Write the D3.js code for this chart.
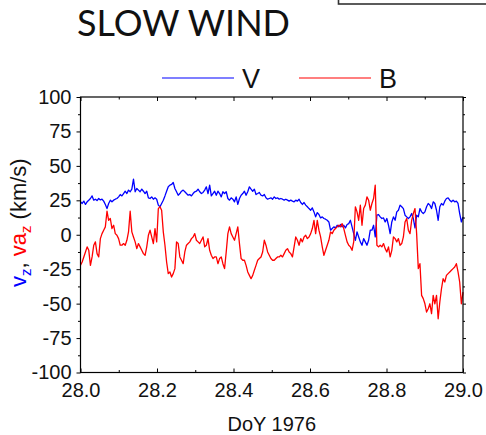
<!DOCTYPE html>
<html>
<head>
<meta charset="utf-8">
<script src="https://cdn.jsdelivr.net/npm/d3@7"></script>
<style>
  body { margin: 0; background: #fff; }
  svg { display: block; font-family: Arial, "Liberation Sans", sans-serif; }
</style>
</head>
<body>
<svg id="chart" width="486" height="435"></svg>
<script>
// v_z (blue), sampled evenly over DoY 28.0 - 29.0
const vz = [
  23.9,22.7,24.4,22.0,23.9,25.1,26.3,28.2,25.1,25.8,
  24.8,26.3,25.3,25.8,24.4,22.0,19.0,22.7,25.1,23.9,
  25.1,25.8,26.3,27.5,29.2,28.2,29.9,31.6,29.9,32.4,
  31.2,33.1,40.4,31.2,33.6,32.4,31.2,33.1,31.6,29.9,
  31.6,26.8,26.3,27.5,25.8,26.8,25.8,21.5,20.3,22.7,
  25.1,28.2,31.6,34.8,36.0,36.5,38.0,33.6,
  31.2,28.7,29.9,31.6,32.4,31.2,29.9,28.7,29.2,28.2,
  29.9,31.2,31.6,33.1,31.2,29.9,30.7,32.4,34.8,29.9,
  36.0,28.2,29.9,31.6,28.7,31.6,29.9,27.5,31.2,29.9,
  31.2,26.3,25.1,26.8,25.8,23.9,27.5,22.0,26.3,28.7,
  29.9,31.6,28.7,31.2,34.8,33.1,31.6,33.1,29.2,29.9,
  30.7,28.7,28.2,29.2,26.8,25.8,26.3,26.8,25.8,
  27.5,26.3,26.8,25.8,26.3,25.8,25.1,25.8,25.1,24.4,
  25.1,24.4,23.9,25.1,24.4,25.8,23.4,22.0,23.4,21.5,
  20.3,19.0,17.8,19.5,16.6,13.0,16.1,14.7,12.2,13.0,
  11.8,11.3,10.5,9.3,3.3,4.5,5.7,5.0,6.9,5.7,
  7.4,5.7,6.9,5.0,7.4,8.1,10.5,5.7,0.8,-4.0,
  2.1,-1.6,-5.2,-7.6,-2.8,-5.2,-7.6,-4.0,3.3,
  3.3,6.9,-1.6,14.2,14.7,13.0,11.8,12.2,9.3,11.8,
  6.9,0.8,9.3,13.0,10.5,16.6,17.8,21.5,20.3,19.0,
  14.2,13.0,11.8,13.0,15.4,11.8,5.0,14.2,13.0,19.0,
  16.6,15.4,16.6,20.3,22.7,21.5,19.0,23.9,22.7,17.8,
  10.5,20.3,22.7,21.5,24.4,26.3,26.8,25.1,23.9,25.1,
  23.9,24.4,22.7,15.4,9.3,13.0
];

// va_z (red), same sampling
const vaz = [
  -22.2,-19.8,-16.1,-12.5,-8.8,-11.3,-22.2,-16.1,-7.6,-5.2,
  -13.7,-16.1,-2.8,0.8,3.3,5.7,17.1,10.5,11.8,4.5,
  6.9,0.8,-0.4,-2.8,-7.6,-7.6,-6.4,-7.6,-4.0,2.1,
  17.1,2.1,-1.6,-5.2,-10.1,-6.4,-8.8,-11.3,-13.7,-14.9,
  -8.8,-0.4,3.3,-1.6,-6.4,4.5,-5.2,19.0,20.3,17.8,
  2.1,-7.6,-19.8,-28.2,-27.0,-30.7,-28.2,-24.6,
  -5.2,-6.4,-16.1,-18.5,-21.0,-12.5,-7.6,-6.4,-5.2,-2.8,
  -1.6,0.8,-4.0,-5.2,-6.4,-4.0,-1.6,-8.8,-7.6,-2.8,
  -11.3,-14.9,-17.3,-16.1,-16.1,-21.0,-17.3,-16.1,-21.0,-24.6,
  -12.5,0.8,5.7,0.8,-1.6,-4.0,0.8,5.7,-6.4,-17.3,
  -18.5,-18.5,-22.2,-27.0,-29.5,-31.9,-29.5,-25.8,-22.2,-18.5,
  -17.3,-16.1,-12.5,-4.0,-7.6,-12.5,-14.9,-17.3,-18.5,
  -18.5,-17.3,-16.1,-16.1,-14.9,-16.1,-13.7,-11.3,-10.1,-12.5,
  -13.7,-16.1,-8.8,-1.6,-4.0,-7.6,-2.8,-5.2,-1.6,-0.4,
  -2.8,-1.6,0.8,4.5,10.5,0.8,10.5,3.3,-1.6,-8.8,
  -14.9,-11.3,-7.6,-4.0,2.1,0.8,3.3,4.5,5.7,6.9,
  5.7,8.1,4.5,-0.4,-5.2,-7.6,-8.8,-11.3,-5.2,20.3,
  16.6,10.5,21.5,6.9,19.0,21.5,27.5,25.1,17.8,
  22.7,26.3,36.0,-7.6,-8.8,-7.6,-8.8,-6.4,-10.1,-12.5,
  -8.8,-16.1,-11.3,-1.6,-2.8,-5.2,-2.8,-7.6,-6.4,-1.6,
  9.3,11.8,3.3,0.8,10.5,15.4,19.0,0.8,-24.6,-21.0,
  -44.0,-46.4,-50.1,-56.1,-53.7,-50.1,-57.3,-44.0,-50.1,-44.0,
  -61.0,-48.8,-39.2,-31.9,-34.3,-29.5,-28.2,-27.0,-25.8,-24.6,
  -23.4,-21.0,-27.0,-34.3,-50.1,-41.6
];

const dayStart = 28.0, dayEnd = 29.0;
const xTicks = [28.0, 28.2, 28.4, 28.6, 28.8, 29.0];
const xMinor = [28.1, 28.3, 28.5, 28.7, 28.9];
const yTicks = [-100, -75, -50, -25, 0, 25, 50, 75, 100];
const yMinor = [-87.5, -62.5, -37.5, -12.5, 12.5, 37.5, 62.5, 87.5];
const seriesNames = ["V", "B"];
const seriesColors = ["#0000ff", "#ff0000"];

var L = 80.5, R = 463, T = 97, B = 372.5;

var svg = d3.select("#chart");

var x = d3.scaleLinear().domain([dayStart, dayEnd]).range([L, R]);
var y = d3.scaleLinear().domain([-100, 100]).range([B, T]);

// odd little box cut off at the top right
svg.append("rect")
    .attr("x", 338.5).attr("y", -10)
    .attr("width", 200).attr("height", 14)
    .attr("fill", "none")
    .attr("stroke", "#333")
    .attr("stroke-width", 1.6);

svg.append("text")
    .attr("x", 77).attr("y", 36)
    .style("font-family", "Lato, 'Open Sans', sans-serif")
    .style("font-size", "36px")
    .attr("fill", "#111")
    .text("SLOW WIND");

// legend
var legend = svg.append("g");
var legX = [162, 299];
seriesNames.forEach(function(name, i) {
  legend.append("line")
      .attr("x1", legX[i]).attr("x2", legX[i] + 72)
      .attr("y1", 78).attr("y2", 78)
      .attr("stroke", seriesColors[i])
      .attr("stroke-width", 1.2);
  legend.append("text")
      .attr("x", legX[i] + 80).attr("y", 88)
      .style("font-size", "27px")
      .attr("fill", "#111")
      .text(name);
});

// series
function tOf(i, n) { return dayStart + i * (dayEnd - dayStart) / (n - 1); }

[vz, vaz].forEach(function(vals, k) {
  var line = d3.line()
      .x(function(d, i) { return x(tOf(i, vals.length)); })
      .y(function(d) { return y(d); });
  svg.append("path")
      .datum(vals)
      .attr("d", line)
      .attr("fill", "none")
      .attr("stroke", seriesColors[k])
      .attr("stroke-width", 1.3)
      .attr("stroke-linejoin", "round");
});

// axes
function clean(g) {
  g.select(".domain").remove();
  g.selectAll("line").attr("stroke", "#000");
  g.selectAll("text").attr("fill", "#111").style("font-size", "20px")
      .style("font-family", "Arial, 'Liberation Sans', sans-serif");
}

svg.append("g")
    .attr("transform", "translate(" + L + ",0)")
    .call(d3.axisLeft(y).tickValues(yTicks).tickSize(4).tickPadding(5)
        .tickFormat(function(d) { return String(d); }))
    .call(clean);
svg.append("g")
    .attr("transform", "translate(" + L + ",0)")
    .call(d3.axisLeft(y).tickValues(yMinor).tickSize(2.5).tickFormat(function() { return ""; }))
    .call(clean);

svg.append("g")
    .attr("transform", "translate(" + R + ",0)")
    .call(d3.axisRight(y).tickValues(yTicks).tickSize(3).tickFormat(function() { return ""; }))
    .call(clean);
svg.append("g")
    .attr("transform", "translate(" + R + ",0)")
    .call(d3.axisRight(y).tickValues(yMinor).tickSize(2).tickFormat(function() { return ""; }))
    .call(clean);

svg.append("g")
    .attr("transform", "translate(0," + B + ")")
    .call(d3.axisBottom(x).tickValues(xTicks).tickSizeInner(-4).tickSizeOuter(0).tickPadding(10)
        .tickFormat(d3.format(".1f")))
    .call(clean);
svg.append("g")
    .attr("transform", "translate(0," + B + ")")
    .call(d3.axisBottom(x).tickValues(xMinor).tickSize(-2.5).tickFormat(function() { return ""; }))
    .call(clean);

svg.append("g")
    .attr("transform", "translate(0," + T + ")")
    .call(d3.axisTop(x).tickValues(xTicks).tickSize(-4).tickFormat(function() { return ""; }))
    .call(clean);
svg.append("g")
    .attr("transform", "translate(0," + T + ")")
    .call(d3.axisTop(x).tickValues(xMinor).tickSize(-2.5).tickFormat(function() { return ""; }))
    .call(clean);

// frame
svg.append("rect")
    .attr("x", L).attr("y", T)
    .attr("width", R - L).attr("height", B - T)
    .attr("fill", "none")
    .attr("stroke", "#000")
    .attr("stroke-width", 1.2);

// axis titles
svg.append("text")
    .attr("x", (L + R) / 2).attr("y", 431)
    .attr("text-anchor", "middle")
    .style("font-size", "20px")
    .attr("fill", "#111")
    .text("DoY 1976");

var yt = svg.append("text")
    .attr("transform", "translate(26,287) rotate(-90)")
    .style("font-size", "22px")
    .attr("fill", "#111");
yt.append("tspan").attr("fill", seriesColors[0]).text("v");
yt.append("tspan").attr("fill", seriesColors[0]).attr("dy", 5).style("font-size", "15px").text("z");
yt.append("tspan").attr("dy", -5).text(", ");
yt.append("tspan").attr("fill", seriesColors[1]).text("va");
yt.append("tspan").attr("fill", seriesColors[1]).attr("dy", 5).style("font-size", "15px").text("z");
yt.append("tspan").attr("dy", -5).text(" (km/s)");
</script>
</body>
</html>
